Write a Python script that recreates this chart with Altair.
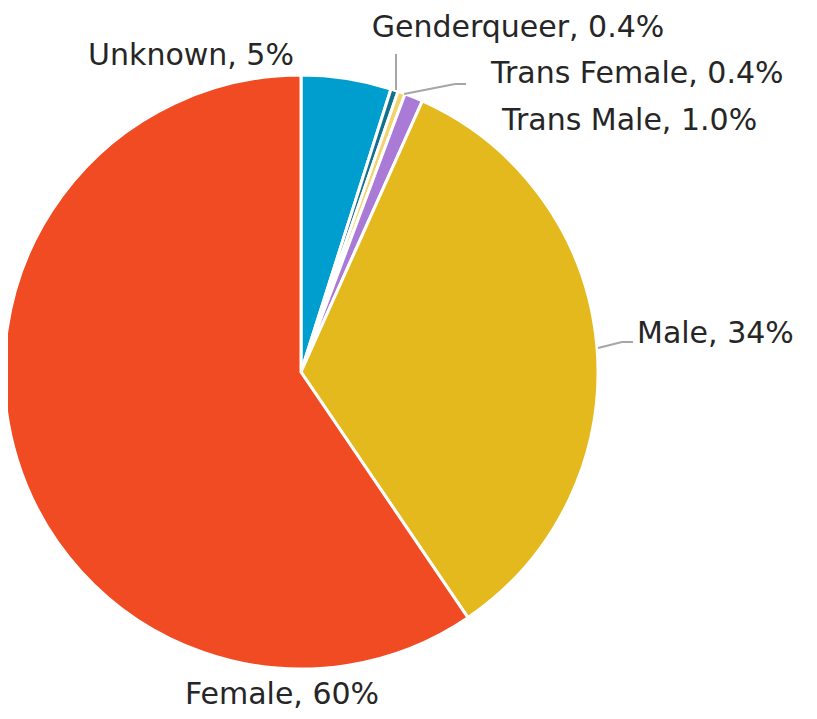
import altair as alt
import pandas as pd

categories = ["Unknown", "Genderqueer", "Trans Female", "Trans Male", "Male", "Female"]
values = [4.9, 0.4, 0.4, 1.0, 33.8, 59.5]
labels = ["Unknown, 5%", "Genderqueer, 0.4%", "Trans Female, 0.4%", "Trans Male, 1.0%", "Male, 34%", "Female, 60%"]
colors = ["#009ECF", "#12708F", "#F2D46C", "#A97BD6", "#E4B91E", "#F04B23"]

df = pd.DataFrame({"category": categories, "value": values, "label": labels,
                   "order": list(range(len(categories)))})

W, H = 801, 703
CX, CY, R = 293, 364, 297
FONT = "DejaVu Sans"
FS = 30

base = alt.Chart(df)

pie = base.mark_arc(outerRadius=R, stroke="white", strokeWidth=3).encode(
    theta=alt.Theta("value:Q", stack=True),
    order=alt.Order("order:Q"),
    color=alt.Color("category:N", scale=alt.Scale(domain=categories, range=colors), legend=None),
    x=alt.value(CX), y=alt.value(CY),
)

# label placement (page px minus 8px margin): x, y (baseline), align
label_layout = {
    "Unknown": (183, 57, "center"),
    "Genderqueer": (510, 29, "center"),
    "Trans Female": (483, 75, "left"),
    "Trans Male": (494, 122, "left"),
    "Male": (629, 335, "left"),
    "Female": (274, 696, "center"),
}

layers = [pie]
for cat, (lx, ly, al) in label_layout.items():
    layers.append(
        base.transform_filter(alt.datum.category == cat).mark_text(
            font=FONT, fontSize=FS, color="#262626", align=al, baseline="alphabetic"
        ).encode(text="label:N", x=alt.value(lx), y=alt.value(ly))
    )

# leader lines
leader_segments = [
    ((388, 46), (388, 82)),
    ((396, 86), (447, 76)),
    ((447, 76), (458, 76)),
    ((590, 340), (614, 334)),
    ((614, 334), (625, 334)),
]
for (x1, y1), (x2, y2) in leader_segments:
    layers.append(
        alt.Chart(pd.DataFrame({"a": [0]})).mark_rule(color="#A6A6A6", strokeWidth=2).encode(
            x=alt.value(x1), y=alt.value(y1), x2=alt.value(x2), y2=alt.value(y2)
        )
    )

chart = alt.layer(*layers).properties(
    width=W, height=H, padding=0, autosize=alt.AutoSizeParams(type="none")
).configure_view(stroke=None)

chart.save("out.html", embed_options={"renderer": "svg", "actions": False})
